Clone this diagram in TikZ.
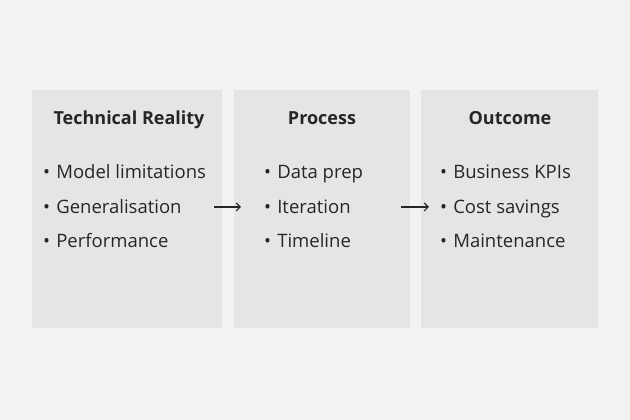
\documentclass[tikz,border=0pt]{standalone}
\usepackage{fontspec}
\setmainfont{Open Sans}
\usetikzlibrary{positioning, arrows.meta}
\tikzset{
  stage/.style={fill=black!10, minimum height=238pt, anchor=north west, inner sep=0pt},
  head/.style={font=\bfseries\fontsize{18}{20}\selectfont, text=black!85, anchor=base, inner sep=0pt},
  item/.style={font=\fontsize{18.5}{20}\selectfont, text=black!85, anchor=base west, inner sep=0pt}
}
\begin{document}
\begin{tikzpicture}[x=1pt, y=1pt, >={Straight Barb[length=4pt, width=8pt]}]
    \fill[black!5] (0,0) rectangle (630,420);
    \useasboundingbox (0,0) rectangle (630,420);

    \node[stage, minimum width=190pt] (reality) at (32,330) {};
    \node[stage, minimum width=176pt] (process) at (234,330) {};
    \node[stage, minimum width=177pt] (outcome) at (421,330) {};

    \node[head] (realityhead) at (129,295) {Technical Reality};
    \node[head] (processhead) at (322,295) {Process};
    \node[head] (outcomehead) at (510,295) {Outcome};

    % items
    \node[item] (r1) at (43,241) {•\,\,Model limitations};
    \node[item] (r2) at (43,206) {•\,\,Generalisation};
    \node[item] (r3) at (43,172) {•\,\,Performance};

    \node[item] (p1) at (264,241) {•\,\,Data prep};
    \node[item] (p2) at (264,206) {•\,\,Iteration};
    \node[item] (p3) at (264,172) {•\,\,Timeline};

    \node[item] (o1) at (440,241) {•\,\,Business KPIs};
    \node[item] (o2) at (440,206) {•\,\,Cost savings};
    \node[item] (o3) at (440,172) {•\,\,Maintenance};

    \coordinate (a1) at (222,213);
    \coordinate (a2) at (234,213);
    \coordinate (b1) at (410,213);
    \coordinate (b2) at (421,213);
    \draw[->, black!85, line width=1.1pt, shorten <=-8pt, shorten >=-7pt] (a1) -- (a2);
    \draw[->, black!85, line width=1.1pt, shorten <=-9pt, shorten >=-8pt] (b1) -- (b2);
\end{tikzpicture}
\end{document}
